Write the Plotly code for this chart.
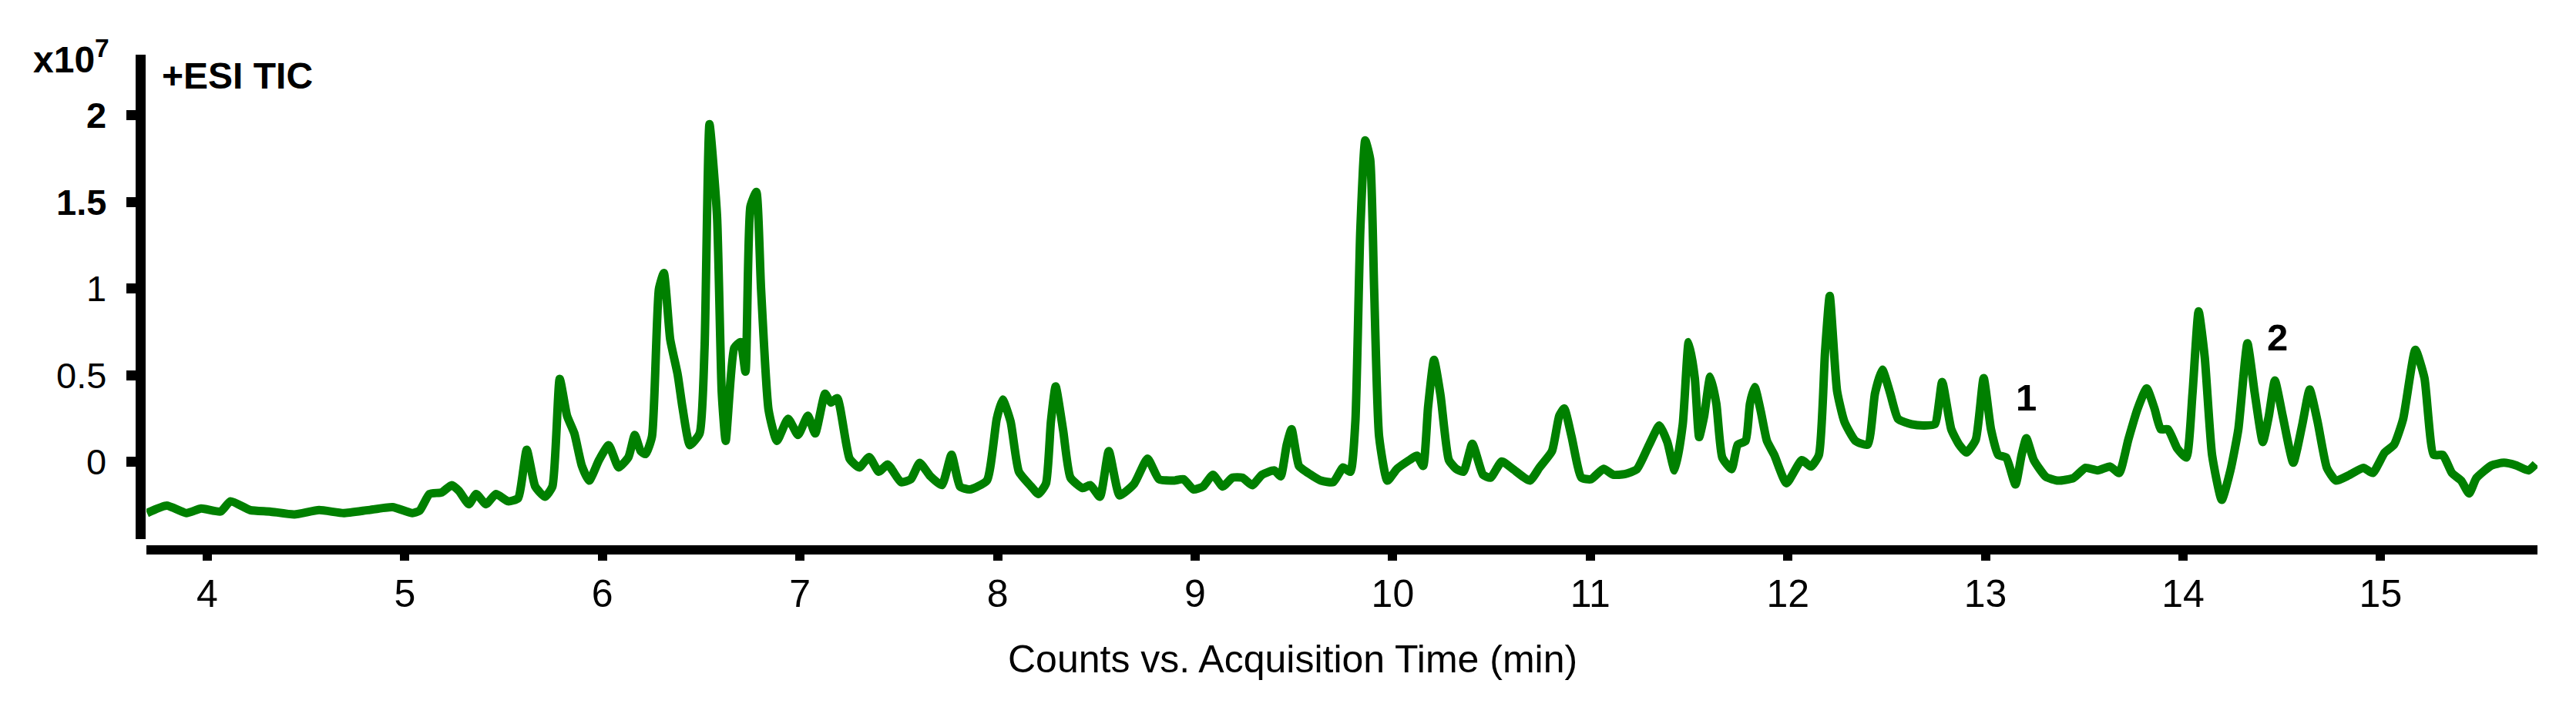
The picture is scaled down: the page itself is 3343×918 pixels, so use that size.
import plotly.graph_objects as go

# retention time (min) and TIC counts (x10^7)
time_min = [
    3.695, 3.795, 3.894, 3.969, 4.068, 4.118, 4.217, 4.317, 4.441, 4.566,
    4.690, 4.814, 4.938, 5.038, 5.075, 5.125, 5.187, 5.237, 5.274, 5.324,
    5.361, 5.411, 5.461, 5.523, 5.573, 5.617, 5.660, 5.709, 5.747, 5.784,
    5.821, 5.858, 5.896, 5.933, 5.983, 6.032, 6.082, 6.132, 6.164, 6.194,
    6.219, 6.251, 6.286, 6.311, 6.343, 6.381, 6.405, 6.443, 6.492, 6.517,
    6.542, 6.580, 6.604, 6.624, 6.667, 6.699, 6.724, 6.749, 6.779, 6.803,
    6.841, 6.883, 6.940, 6.990, 7.040, 7.077, 7.127, 7.156, 7.189, 7.251,
    7.300, 7.350, 7.399, 7.444, 7.511, 7.561, 7.606, 7.660, 7.718, 7.767,
    7.810, 7.859, 7.946, 7.996, 8.026, 8.066, 8.108, 8.170, 8.207, 8.245,
    8.270, 8.294, 8.332, 8.369, 8.431, 8.469, 8.518, 8.563, 8.618, 8.692,
    8.759, 8.817, 8.891, 8.941, 8.991, 9.040, 9.090, 9.140, 9.189, 9.239,
    9.289, 9.339, 9.401, 9.433, 9.463, 9.488, 9.525, 9.562, 9.637, 9.699,
    9.749, 9.786, 9.811, 9.836, 9.861, 9.886, 9.906, 9.931, 9.973, 10.022,
    10.085, 10.122, 10.154, 10.179, 10.209, 10.242, 10.284, 10.321, 10.358, 10.403,
    10.457, 10.495, 10.552, 10.607, 10.694, 10.743, 10.806, 10.843, 10.868, 10.905,
    10.955, 11.004, 11.067, 11.116, 11.174, 11.236, 11.298, 11.350, 11.390, 11.427,
    11.468, 11.498, 11.529, 11.551, 11.576, 11.607, 11.638, 11.668, 11.715, 11.746,
    11.786, 11.808, 11.832, 11.863, 11.894, 11.931, 11.993, 12.070, 12.117, 12.157,
    12.188, 12.212, 12.249, 12.286, 12.342, 12.404, 12.441, 12.478, 12.518, 12.558,
    12.626, 12.688, 12.744, 12.781, 12.827, 12.867, 12.904, 12.951, 12.991, 13.028,
    13.065, 13.105, 13.152, 13.183, 13.207, 13.245, 13.306, 13.368, 13.445, 13.507,
    13.569, 13.631, 13.677, 13.723, 13.770, 13.816, 13.856, 13.887, 13.924, 13.971,
    14.017, 14.048, 14.079, 14.110, 14.147, 14.196, 14.240, 14.280, 14.326, 14.363,
    14.404, 14.434, 14.465, 14.505, 14.558, 14.604, 14.641, 14.681, 14.728, 14.774,
    14.836, 14.913, 14.960, 15.021, 15.068, 15.114, 15.176, 15.222, 15.269, 15.315,
    15.361, 15.408, 15.448, 15.485, 15.562, 15.624, 15.686, 15.748, 15.785,
]
counts_e7 = [
    -0.294, -0.251, -0.294, -0.268, -0.285, -0.226, -0.277, -0.285, -0.302, -0.277,
    -0.294, -0.277, -0.260, -0.294, -0.280, -0.184, -0.175, -0.133, -0.166, -0.243,
    -0.184, -0.243, -0.184, -0.226, -0.209, 0.071, -0.141, -0.200, -0.141, 0.479,
    0.267, 0.165, -0.022, -0.107, 0.012, 0.097, -0.031, 0.029, 0.156, 0.063,
    0.046, 0.148, 0.997, 1.090, 0.708, 0.504, 0.317, 0.097, 0.165, 0.657,
    1.947, 1.421, 0.402, 0.122, 0.657, 0.691, 0.521, 1.472, 1.557, 0.997,
    0.300, 0.122, 0.250, 0.156, 0.267, 0.165, 0.394, 0.343, 0.368, 0.020,
    -0.031, 0.029, -0.056, -0.014, -0.116, -0.099, -0.005, -0.082, -0.133, 0.042,
    -0.141, -0.158, -0.107, 0.250, 0.360, 0.233, -0.056, -0.141, -0.184, -0.124,
    0.233, 0.436, 0.182, -0.090, -0.150, -0.133, -0.200, 0.063, -0.192, -0.124,
    0.020, -0.099, -0.107, -0.099, -0.158, -0.141, -0.073, -0.141, -0.090, -0.090,
    -0.133, -0.073, -0.048, -0.082, 0.097, 0.190, -0.022, -0.056, -0.107, -0.116,
    -0.031, -0.056, 0.233, 1.336, 1.854, 1.744, 0.997, 0.148, -0.107, -0.039,
    0.012, 0.037, -0.022, 0.317, 0.589, 0.385, 0.012, -0.039, -0.056, 0.105,
    -0.073, -0.090, 0.003, -0.039, -0.107, -0.031, 0.063, 0.267, 0.309, 0.148,
    -0.090, -0.099, -0.039, -0.073, -0.070, -0.041, 0.100, 0.211, 0.115, -0.048,
    0.218, 0.691, 0.484, 0.144, 0.263, 0.492, 0.336, 0.026, -0.041, 0.100,
    0.122, 0.336, 0.433, 0.292, 0.122, 0.041, -0.122, 0.011, -0.026, 0.041,
    0.632, 0.957, 0.410, 0.233, 0.122, 0.100, 0.396, 0.532, 0.396, 0.248,
    0.218, 0.211, 0.218, 0.462, 0.189, 0.100, 0.055, 0.129, 0.484, 0.189,
    0.041, 0.026, -0.129, 0.041, 0.137, 0.011, -0.085, -0.107, -0.092, -0.033,
    -0.048, -0.026, -0.063, 0.129, 0.307, 0.425, 0.307, 0.189, 0.189, 0.078,
    0.026, 0.396, 0.869, 0.603, 0.041, -0.218, -0.048, 0.189, 0.684, 0.396,
    0.115, 0.263, 0.470, 0.263, -0.004, 0.218, 0.418, 0.233, -0.033, -0.107,
    -0.078, -0.033, -0.063, 0.055, 0.100, 0.248, 0.647, 0.484, 0.041, 0.041,
    -0.063, -0.107, -0.181, -0.092, -0.019, -0.004, -0.019, -0.048, -0.011,
]

x_ticks = [4, 5, 6, 7, 8, 9, 10, 11, 12, 13, 14, 15]
y_ticks = [0, 0.5, 1, 1.5, 2]
y_tick_text = ["0", "0.5", "1", "<b>1.5</b>", "<b>2</b>"]

peak_names = ["1", "2"]
peak_t = [13.208, 14.476]
peak_v = [0.373, 0.719]

FONT = "Liberation Sans, Arial, sans-serif"

fig = go.Figure()
fig.add_trace(go.Scatter(
    x=time_min, y=counts_e7, mode="lines",
    line=dict(color="#008000", width=11, shape="spline", smoothing=0.5),
    hoverinfo="skip",
))

for name, t, v in zip(peak_names, peak_t, peak_v):
    fig.add_annotation(x=t, y=v, text="<b>%s</b>" % name, showarrow=False,
                       font=dict(size=49, color="black", family=FONT),
                       xanchor="center", yanchor="middle")

# y tick labels placed by hand so they sit further from the ticks
for v, label in zip(y_ticks, y_tick_text):
    fig.add_annotation(x=-0.0135, y=v, xref="paper", yref="y",
                       text=label, showarrow=False,
                       font=dict(size=47, color="black", family=FONT),
                       xanchor="right", yanchor="middle")

fig.add_annotation(x=0.0405, y=0.958, xref="paper", yref="paper",
                   text="<b>+ESI TIC</b>", showarrow=False,
                   font=dict(size=48, color="black", family=FONT),
                   xanchor="center", yanchor="middle")
fig.add_annotation(x=-0.0453, y=0.995, xref="paper", yref="paper",
                   text="<b>x10<sup>7</sup></b>", showarrow=False,
                   font=dict(size=48, color="black", family=FONT),
                   xanchor="left", yanchor="middle")
fig.add_annotation(x=9.493, y=-0.2208, xref="x", yref="paper",
                   text="Counts vs. Acquisition Time (min)", showarrow=False,
                   font=dict(size=50, color="black", family=FONT),
                   xanchor="center", yanchor="middle")

fig.update_layout(
    width=3343, height=918,
    margin=dict(l=174, r=58, t=63, b=212),
    paper_bgcolor="white", plot_bgcolor="white",
    showlegend=False,
    font=dict(family=FONT, color="black"),
    xaxis=dict(
        domain=[0.00257, 1], anchor="free", position=0,
        range=[3.692, 15.794],
        showline=True, linecolor="black", linewidth=12,
        showgrid=False, zeroline=False,
        ticks="outside", ticklen=8, tickwidth=12, tickcolor="black",
        tickvals=x_ticks, tickfont=dict(size=50, color="black"),
    ),
    yaxis=dict(
        domain=[0.0218, 1], anchor="free", position=0,
        range=[-0.444, 2.348],
        showline=True, linecolor="black", linewidth=13,
        showgrid=False, zeroline=False,
        ticks="outside", ticklen=12, tickwidth=13, tickcolor="black",
        tickvals=y_ticks, showticklabels=False,
    ),
)

fig.write_html("out.html")
